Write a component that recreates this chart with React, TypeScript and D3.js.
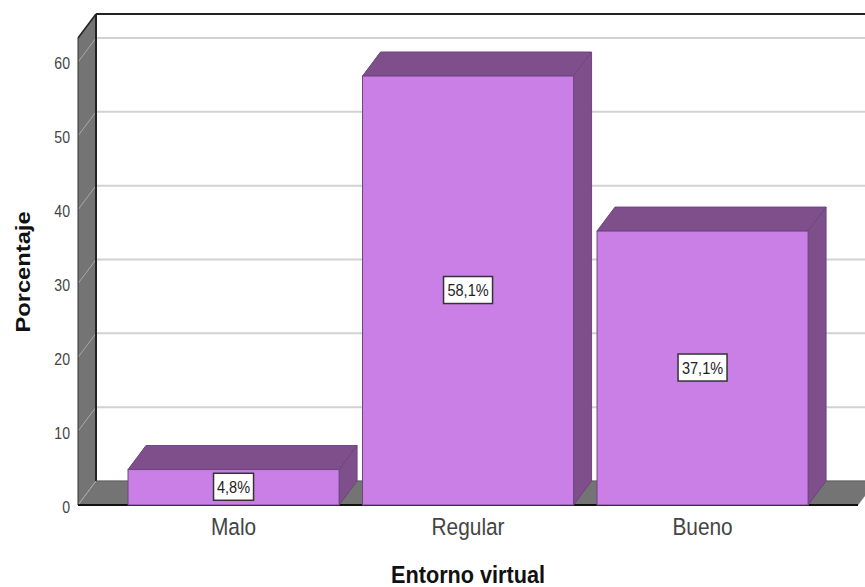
import * as d3 from "d3";

const categories = ["Malo", "Regular", "Bueno"];
const values = [4.8, 58.1, 37.1];
const valueLabels = ["4,8%", "58,1%", "37,1%"];
const yTicks = [0, 10, 20, 30, 40, 50, 60];
const backGridValues = [0, 10, 20, 30, 40, 50, 60];
const yMax = 63.25;
const xTitle = "Entorno virtual";
const yTitle = "Porcentaje";

const width = 865;
const height = 587;
const depthX = 18;
const depthY = 24;
const axisLeft = 78;
const axisRight = 858;
const squeeze = 0.88; // the source picture is a bit narrower than tall
const font = "'Liberation Sans', Arial, sans-serif";

const x = d3
  .scaleBand<string>()
  .domain(categories)
  .range([116.3, 819.8])
  .paddingInner(0.1)
  .paddingOuter(0.05);

const y = d3.scaleLinear().domain([0, yMax]).range([505, 38]);

const poly = (pts: [number, number][]) => pts.map((p) => p.join(",")).join(" ");

export default function App() {
  const y0 = y(0);
  const yTop = y(yMax);

  return (
    <svg
      width={width}
      height={height}
      style={{ position: "absolute", left: 0, top: 0, background: "#fff" }}
      fontFamily={font}
    >
      {/* left wall */}
      <polygon
        points={poly([
          [axisLeft, y0],
          [axisLeft, yTop],
          [axisLeft + depthX, yTop - depthY],
          [axisLeft + depthX, y0 - depthY],
        ])}
        fill="#747474"
      />
      {/* floor */}
      <polygon
        points={poly([
          [axisLeft, y0],
          [axisLeft + depthX, y0 - depthY],
          [axisRight + depthX, y0 - depthY],
          [axisRight, y0],
        ])}
        fill="#747474"
        stroke="#9a9a9a"
        strokeWidth={0.6}
      />

      {/* grid on the back and side walls */}
      {backGridValues.map((v) => (
        <g key={v}>
          <line
            x1={axisLeft}
            x2={axisLeft + depthX}
            y1={y(v)}
            y2={y(v) - depthY}
            stroke="#a8a8a8"
            strokeWidth={1}
          />
          {v > 0 && (
            <line
              x1={axisLeft + depthX}
              x2={width}
              y1={y(v) - depthY}
              y2={y(v) - depthY}
              stroke="#d2d2d2"
              strokeWidth={2}
            />
          )}
        </g>
      ))}

      {/* frame */}
      <line x1={axisLeft + depthX} x2={width} y1={yTop - depthY} y2={yTop - depthY} stroke="#222" strokeWidth={2} />
      <line x1={axisLeft + depthX} x2={axisLeft + depthX} y1={yTop - depthY} y2={y0 - depthY} stroke="#222" strokeWidth={2} />
      <line x1={axisLeft} x2={axisLeft + depthX} y1={yTop} y2={yTop - depthY} stroke="#222" strokeWidth={1.5} />
      <line x1={axisLeft} x2={axisLeft} y1={yTop} y2={y0} stroke="#333" strokeWidth={1} />
      <line x1={axisLeft + depthX} x2={width} y1={y0 - depthY} y2={y0 - depthY} stroke="#555" strokeWidth={1} />
      <line x1={axisLeft} x2={axisRight} y1={y0} y2={y0} stroke="#111" strokeWidth={2} />

      {/* bars */}
      {categories.map((c, i) => {
        const left = x(c) as number;
        const right = left + x.bandwidth();
        const top = y(values[i]);
        return (
          <g key={c} stroke="#6e4580" strokeWidth={1}>
            <polygon
              points={poly([
                [left, top],
                [left + depthX, top - depthY],
                [right + depthX, top - depthY],
                [right, top],
              ])}
              fill="#7e4f8b"
            />
            <polygon
              points={poly([
                [right, top],
                [right + depthX, top - depthY],
                [right + depthX, y0 - depthY],
                [right, y0],
              ])}
              fill="#7e4f8b"
            />
            <rect x={left} y={top} width={x.bandwidth()} height={y0 - top} fill="#ca7fe6" />
          </g>
        );
      })}

      {/* value labels */}
      {categories.map((c, i) => {
        const cx = (x(c) as number) + x.bandwidth() / 2;
        const cy = (y(values[i]) + y0) / 2 - 0.5;
        const boxW = valueLabels[i].length === 4 ? 40 : 49;
        return (
          <g key={c}>
            <rect x={cx - boxW / 2} y={cy - 13.5} width={boxW} height={27} fill="#fff" stroke="#333" strokeWidth={1.5} />
            <text
              transform={`translate(${cx},${cy + 6}) scale(${squeeze},1)`}
              textAnchor="middle"
              fontSize={16.5}
              fill="#222"
            >
              {valueLabels[i]}
            </text>
          </g>
        );
      })}

      {/* y axis labels */}
      {yTicks.map((t) => (
        <text
          key={t}
          transform={`translate(${axisLeft - 8},${y(t) + 7.5}) scale(${squeeze},1)`}
          textAnchor="end"
          fontSize={16}
          fill="#444"
        >
          {t}
        </text>
      ))}

      {/* x axis labels */}
      {categories.map((c) => (
        <text
          key={c}
          transform={`translate(${(x(c) as number) + x.bandwidth() / 2},535) scale(${squeeze},1)`}
          textAnchor="middle"
          fontSize={23.7}
          fill="#444"
        >
          {c}
        </text>
      ))}

      <text
        transform={`translate(468,583) scale(${squeeze},1)`}
        textAnchor="middle"
        fontSize={24.6}
        fontWeight="bold"
        fill="#111"
      >
        {xTitle}
      </text>
      <text
        transform={`translate(30,272) rotate(-90) scale(1,${squeeze})`}
        textAnchor="middle"
        fontSize={23.7}
        fontWeight="bold"
        fill="#111"
      >
        {yTitle}
      </text>
    </svg>
  );
}
